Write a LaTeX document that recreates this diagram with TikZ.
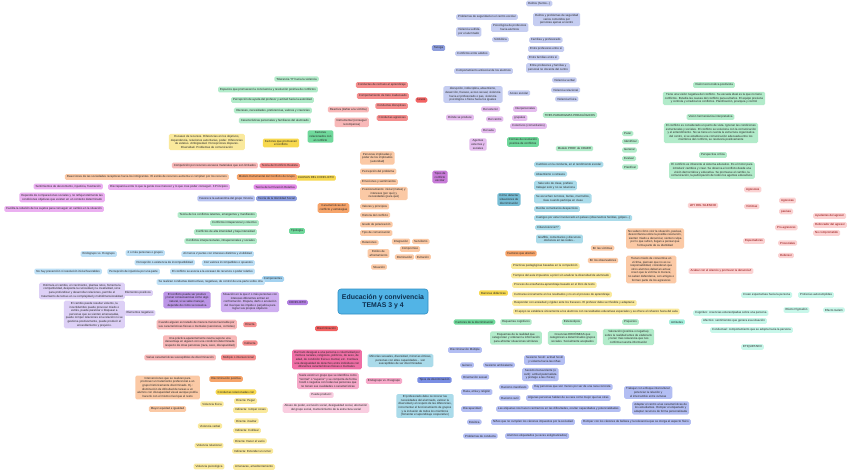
\documentclass[tikz,border=0pt]{standalone}
\usepackage{fontspec}
\setmainfont{Liberation Sans}
\usepackage{tikz}
\pgfdeclarelayer{edges}
\pgfsetlayers{edges,main}

\definecolor{cTtl}{HTML}{52B4E6}
\definecolor{cTtlD}{HTML}{2E8FC4}
\definecolor{cTtlT}{HTML}{0D2F4F}
\definecolor{cPurM}{HTML}{C77AD8}
\definecolor{cPurL}{HTML}{E4BCEE}
\definecolor{cPurLn}{HTML}{C983DA}
\definecolor{cRedM}{HTML}{F26262}
\definecolor{cRedL}{HTML}{F58E8E}
\definecolor{cRedP}{HTML}{F8B8B8}
\definecolor{cRedLn}{HTML}{F07C7C}
\definecolor{cBlvM}{HTML}{8E9EDD}
\definecolor{cBlvL}{HTML}{C5CDF1}
\definecolor{cBlvLn}{HTML}{98A6E0}
\definecolor{cGrM}{HTML}{6FD89B}
\definecolor{cGrL}{HTML}{B2EBCA}
\definecolor{cGrLn}{HTML}{8FE0B2}
\definecolor{cTlM}{HTML}{78BED6}
\definecolor{cTlL}{HTML}{AADBEA}
\definecolor{cTlLn}{HTML}{7DBFD6}
\definecolor{cOrM}{HTML}{F6A46A}
\definecolor{cOrL}{HTML}{FBC9A5}
\definecolor{cOrLn}{HTML}{F5AE7C}
\definecolor{cYeM}{HTML}{F7D84E}
\definecolor{cYeL}{HTML}{FAE99C}
\definecolor{cYeLn}{HTML}{F3D45A}
\definecolor{cAqM}{HTML}{A3F0DC}
\definecolor{cAqL}{HTML}{C8F7EA}
\definecolor{cAqLn}{HTML}{A8EEDB}
\definecolor{cPkM}{HTML}{FBD2D2}
\definecolor{cPkLn}{HTML}{F7B9B9}
\definecolor{cCpM}{HTML}{B17FE1}
\definecolor{cCpD}{HTML}{BC95E7}
\definecolor{cCpL}{HTML}{CEAEF0}
\definecolor{cCpX}{HTML}{DDD0F6}
\definecolor{cCpLn}{HTML}{B890E2}
\definecolor{cCbM}{HTML}{A3D2F0}
\definecolor{cCbL}{HTML}{BEE0F6}
\definecolor{cCbLn}{HTML}{9FCDEE}
\definecolor{cDbM}{HTML}{7B8FE4}
\definecolor{cDbL}{HTML}{B3BEF3}
\definecolor{cDbLn}{HTML}{8D9FE6}
\definecolor{cMgM}{HTML}{F06FA6}
\definecolor{cMgL}{HTML}{F6A9C9}
\definecolor{cMgX}{HTML}{F9CDE0}
\definecolor{cMgLn}{HTML}{F28AB7}
\definecolor{cMaM}{HTML}{E28BE8}
\definecolor{cMaL}{HTML}{EBB0F1}
\definecolor{cMaLn}{HTML}{E096E6}
\definecolor{cBlM}{HTML}{8D9EE0}
\definecolor{cBlL}{HTML}{B9C4F2}

\newcommand\mapfont{\fontsize{2.9}{3.6}\selectfont}

\tikzset{
  box/.style={rounded corners=1.5pt, inner xsep=2pt, inner ysep=1.6pt, font=\mapfont, align=center, text=black!85},
  ttl/.style={box, fill=cTtl, draw=cTtlD, line width=0.6pt, text=cTtlT, font=\fontsize{6.9}{8.4}\selectfont\bfseries, minimum width=90pt, minimum height=25pt, rounded corners=3pt},
  purM/.style={box, fill=cPurM}, purL/.style={box, fill=cPurL},
  redM/.style={box, fill=cRedM}, redL/.style={box, fill=cRedL}, redP/.style={box, fill=cRedP},
  blvM/.style={box, fill=cBlvM}, blvL/.style={box, fill=cBlvL},
  grM/.style={box, fill=cGrM}, grL/.style={box, fill=cGrL},
  tlM/.style={box, fill=cTlM}, tlL/.style={box, fill=cTlL},
  orM/.style={box, fill=cOrM}, orL/.style={box, fill=cOrL},
  yeM/.style={box, fill=cYeM}, yeL/.style={box, fill=cYeL},
  aqM/.style={box, fill=cAqM}, aqL/.style={box, fill=cAqL},
  pkM/.style={box, fill=cPkM, text=red!55!black},
  cpM/.style={box, fill=cCpM}, cpD/.style={box, fill=cCpD}, cpL/.style={box, fill=cCpL}, cpX/.style={box, fill=cCpX},
  cbM/.style={box, fill=cCbM}, cbL/.style={box, fill=cCbL},
  dbM/.style={box, fill=cDbM}, dbL/.style={box, fill=cDbL},
  mgM/.style={box, fill=cMgM}, mgL/.style={box, fill=cMgL}, mgX/.style={box, fill=cMgX},
  maM/.style={box, fill=cMaM}, maL/.style={box, fill=cMaL},
  blM/.style={box, fill=cBlM}, blL/.style={box, fill=cBlL},
  toR/.style={out=0,in=180}, toL/.style={out=180,in=0},
  lk/.style={line width=0.6pt},
  trunk/.style={line width=1.1pt},
  lpur/.style={lk, draw=cPurLn}, lred/.style={lk, draw=cRedLn}, lblv/.style={lk, draw=cBlvLn},
  lgr/.style={lk, draw=cGrLn}, ltl/.style={lk, draw=cTlLn}, lor/.style={lk, draw=cOrLn},
  lye/.style={lk, draw=cYeLn}, laq/.style={lk, draw=cAqLn}, lpk/.style={lk, draw=cPkLn},
  lcp/.style={lk, draw=cCpLn}, lcb/.style={lk, draw=cCbLn}, ldb/.style={lk, draw=cDbLn},
  lmg/.style={lk, draw=cMgLn}, lma/.style={lk, draw=cMaLn}
}

\begin{document}
\begin{tikzpicture}[x=1pt,y=-1pt]
\fill[white] (0,0) rectangle (848,470);
\useasboundingbox (0,0) rectangle (848,470);

% centro
\node[ttl] (title) at (383,301.5) {Educación y convivencia\\TEMAS 3 y 4};

% tipos de conflicto escolar
\node[purM] (tipos) at (440,177) {Tipos de\\conflicto\\escolar};
\node[purL] (donde) at (460,117.5) {Dónde se produce};
\node[purL, anchor=west] (exterior) at (481,109) {Del exterior};
\node[purL, anchor=west] (centro) at (486,119) {Del centro};
\node[purL, anchor=west] (aula) at (481,130.5) {Del aula};
\node[purL, anchor=west] (interp) at (513,109) {Interpersonales};
\node[purL, anchor=west] (grupal) at (512,118) {grupales};
\node[purL, anchor=west] (colect) at (510,126) {Colectivos (comunitarios)};
\node[purL] (agentes) at (478,144.5) {Agentes\\externos y\\sociales};

\node[redM] (leves) at (421.5,100) {Leves};
\node[redL, anchor=east] (rechazo) at (408,85) {Conductas de rechazo al aprendizaje};
\node[redL, anchor=east] (trato) at (409,96) {Comportamiento de trato inadecuado};
\node[redL, anchor=east] (disrup) at (408,106) {Conductas disruptivas};
\node[redL, anchor=east] (agres) at (408,118) {Conductas agresivas};
\node[redP, anchor=east] (reactiva) at (369,109.5) {Reactiva (dañar a la víctima)};
\node[redP, anchor=east] (instrum) at (369,122.5) {Instrumental (conseguir\\recompensa)};

\node[blvM] (tacoga) at (438.5,48) {Tacoga};
\node[blvL, anchor=west] (segur) at (456,17) {Problemas de seguridad en el centro escolar};
\node[blvL, anchor=west] (hurtos) at (526,3.5) {Delitos (hurtos...)};
\node[blvL, anchor=west] (ajenas) at (533,19.5) {Delitos y problemas de seguridad\\varios cometidos por\\personas ajenas al centro};
\node[blvL, anchor=west] (sufrida) at (456,32) {Violencia sufrida\\por el alumnado};
\node[blvL, anchor=west] (psico) at (491,27.5) {Psicológica de profesores\\hacia alumnos};
\node[blvL, anchor=west] (simbol) at (492,39.5) {Simbólica};
\node[blvL, anchor=west] (adultos) at (455,53.5) {Conflictos entre adultos};
\node[blvL, anchor=west] (famprof) at (529,40) {Familias y profesorado};
\node[blvL, anchor=west] (entreprof) at (528,49) {Entre profesores entre sí};
\node[blvL, anchor=west] (entrefam) at (527,57.5) {Entre familias entre sí};
\node[blvL, anchor=west] (profam) at (526,68) {Entre profesores y familias y\\personal no docente del centro};
\node[blvL, anchor=west] (antisoc) at (454,71) {Comportamiento antisocial de los alumnos};
\node[blvL] (lista) at (473,94.5) {disrupción, indisciplina, absentismo,\\deserción, fracaso, acoso sexual, violencia\\hacia el profesorado o pas, violencia\\psicológica o física hacia los iguales};
\node[blvL] (acoso) at (519,93) {Acoso escolar};
\node[blvL, anchor=west] (vverbal) at (552,80) {Violencia verbal};
\node[blvL, anchor=west] (vrelac) at (551,90) {Violencia relacional};
\node[blvL, anchor=west] (vfisica) at (555,99) {Violencia física};

% resolucion positiva
\node[grM] (formas) at (523,142) {Formas de resolución\\positiva de conflictos};
\node[grL] (paradig) at (570,115) {TRES PARADIGMAS PEDAGÓGICOS};
\node[grL] (modelo) at (574.5,148.5) {Modelo PROF de CDAER};
\node[grL] (tecno) at (714,85) {Visión tecnocrática positivista};
\node[grL] (tecnotx) at (714,98.5) {Tiene una visión negativa del conflicto. Su escuela ideal es la que no tiene\\conflictos. Estudia las causas del conflicto para evitarlos. El equipo previene\\y controla y erradica los conflictos. Planificación, jerarquía y control};
\node[grL] (herme) at (710.5,117) {Visión hermenéutica interpretativa};
\node[grL] (hermetx) at (711,133) {El conflicto es considerado un punto de vista. Ignoran las condiciones\\estructurales y sociales. El conflicto se soluciona con la comunicación\\y el entendimiento. No se tiene en cuenta la estructura organizativa\\del centro, si se establece una comunicación adecuada entre los\\miembros del conflicto, se resolverá positivamente};
\node[grL] (critica) at (713,155) {Perspectiva crítica};
\node[grL] (criticatx) at (712,170.5) {El conflicto es inherente al sistema educativo. Es el motor para\\introducir cambios y crear. Se observa el conflicto desde una\\visión democrática y educativa. Se promueve el cambio, la\\comunicación, la participación de todos los agentes educativos.};
\node[grL, anchor=west] (parar) at (622,133.5) {Parar};
\node[grL, anchor=west] (identif) at (622,141.5) {Identificar};
\node[grL, anchor=west] (generar) at (622,150) {Generar};
\node[grL, anchor=west] (evaluar) at (622,158.5) {Evaluar};
\node[grL, anchor=west] (planif) at (622,167) {Planificar};

% detectar
\node[tlM] (detect) at (509,199.5) {Cómo detectar\\situaciones de\\discriminación};
\node[tlL, anchor=west] (cambios) at (534,164.5) {Cambios en la conducta, en el rendimiento escolar};
\node[tlL, anchor=west] (absent) at (534,174) {Absentismo o retrasos};
\node[tlL, anchor=west] (sale) at (534,185.5) {Sale solo de clase, prefiere\\trabajar solo y no se relaciona};
\node[tlL, anchor=west] (rumores) at (534,198.5) {Se escuchan rumores, burlas, murmullos,\\risas cuando participa en clase};
\node[tlL, anchor=west] (despect) at (534,209) {Recibe comentarios despectivos};
\node[tlL, anchor=west] (castigos) at (534,218) {Castigos por estar involucrado en peleas (observamos heridas, golpes...)};
\node[tlL, anchor=west] (coinc) at (535,227.5) {Ciberviolencia??};
\node[tlL, anchor=west] (graff) at (536,239) {Graffitis, comentarios y discursos\\ofensivos en las redes...};

% factores que afectan
\node[orM] (afectan) at (521,253.5) {Factores que afectan};
\node[orL] (victimas) at (602.5,248) {En las víctimas};
\node[orL] (observ) at (603,260.5) {En los observadores};
\node[orL, anchor=west] (victx) at (626,238.5) {No saben cómo vivir la situación, pasivas,\\desconfianza sobre la posible resolución,\\sienten miedo a denunciar, sienten culpa\\por lo que sufren, llegan a pensar que\\forma parte de su identidad};
\node[orL, anchor=west] (obstx) at (626,269.5) {Tienen miedo de convertirse en\\víctima, piensan que no es su\\responsabilidad, consideran que\\otros alumnos deberían actuar,\\creen que la víctima lo merece,\\no saben defenderse, son amigos o\\forman parte de los agresores};

% barreras
\node[yeM] (barreras) at (493.5,293) {Barreras didácticas};
\node[yeL, anchor=west] (b1) at (511,266) {Prácticas pedagógicas basadas en la competición};
\node[yeL, anchor=west] (b2) at (511,275.5) {Tiempos del aula impuestos a priori sin analizar la diversidad de alumnado};
\node[yeL, anchor=west] (b3) at (512,285) {Proceso de enseñanza-aprendizaje basado en el libro de texto};
\node[yeL, anchor=west] (b4) at (512,294.5) {Centrarse únicamente en los resultados y no en el proceso de aprendizaje};
\node[yeL, anchor=west] (b5) at (512,303) {Responder con ansiedad y rigidez ante los fracasos. El profesor debe ser flexible y adaptarse};
\node[yeL, anchor=west] (b6) at (513,311.5) {El apoyo se establece únicamente a los alumnos con necesidades educativas especiales y se ofrece el refuerzo fuera del aula};

% factores de la discriminacion
\node[grM] (factdis) at (474.5,322) {Factores de la discriminación};
\node[grL] (esquemas) at (516,322) {Esquemas cognitivos};
\node[grL] (estereo) at (572,322) {Estereotipos};
\node[grL] (prejui) at (630.5,322) {Prejuicios};
\node[grL] (esqtx) at (516,338) {Esquemas de la realidad que\\categorizan y ordenan la información\\para afrontar situaciones similares};
\node[grL] (esttx) at (572.5,338) {Creencias ERRÓNEAS que\\categorizan a determinados grupos\\sociales. Socialmente aceptados};
\node[grL] (pretx) at (628.5,337) {Valoración (positiva o negativa)\\sobre la realidad antes de elaborarlo\\y tener más relevancia que nos\\confirma nuestra información};
\node[aqM] (actitud) at (677,322) {Actitudes};
\node[aqL, anchor=west] (cognit) at (693,313) {Cognitivo: creencias estereotipadas sobre una persona};
\node[aqL, anchor=west] (afect) at (701,321) {Afectivo: sentimientos que genera esa situación};
\node[aqL, anchor=west] (conduct) at (710,330) {Conductual: comportamiento que se adopta hacia la persona};
\node[aqL, anchor=west] (expect) at (741,295) {Crean expectativas hacia la persona};
\node[aqL, anchor=west] (profec) at (798,295) {Profecías autocumplidas};
\node[aqL] (pigm) at (796.5,310) {Efecto Pigmalión};
\node[aqL] (golem) at (834,310) {Efecto Golem};
\node[aqL] (etiq) at (752.5,347) {ETIQUETADO};

% ley del silencio
\node[pkM] (ley) at (703,205.5) {LEY DEL SILENCIO};
\node[pkM, anchor=west] (agresores) at (744,189.5) {Agresores};
\node[pkM, anchor=west] (victim2) at (744,206.5) {Víctimas};
\node[pkM, anchor=west] (espect) at (743,241) {Espectadores};
\node[pkM, anchor=west] (agresivas) at (779,200.5) {Agresivas};
\node[pkM, anchor=west] (pasivas) at (779,211.5) {pasivas};
\node[pkM, anchor=west] (proagr) at (775,227.5) {Pro-agresores};
\node[pkM, anchor=west] (prosoc) at (778,243) {Prosociales};
\node[pkM, anchor=west] (defensor) at (778,255.5) {Defensor};
\node[pkM, anchor=west] (ayud) at (813,216) {Ayudantes del agresor};
\node[pkM, anchor=west] (reforz) at (813,225) {Reforzador del agresor};
\node[pkM, anchor=west] (nocomp) at (813,233) {No comprometido};
\node[pkM] (acabar) at (721,271) {Acabar con el silencio y promover la denuncia!!};

% factores y causas
\node[grM] (factrel) at (320.5,136.5) {Factores\\relacionados con\\el conflicto};
\node[grL, anchor=east] (tol) at (319,79) {Tolerancia "0" hacia la violencia};
\node[grL, anchor=east] (esp) at (318,89.5) {Espacios que promueven la convivencia y resolución positiva de conflictos};
\node[grL, anchor=east] (percep) at (314,100) {Percepción de ayuda del profesor y actitud hacia la autoridad};
\node[grL, anchor=east] (intereses) at (312,110.5) {Intereses, necesidades, preferencias, valores y creencias};
\node[grL, anchor=east] (caract) at (311,120.5) {Características personales y familiares del alumnado};
\node[yeM] (promueven) at (281,143) {Factores que promueven\\el conflicto};
\node[yeL, anchor=east] (escasez) at (245,142) {Escasez de recursos. Diferencias en los objetivos,\\dependencia, relaciones autoritarias, poder. Diferencias\\de estatus. Ambigüedad. Percepciones dispares.\\Diversidad. Problemas de comunicación};
\node[yeM] (causas) at (316,178) {CAUSAS DEL CONFLICTO};
\node[redL, anchor=east] (realista) at (300,165.5) {Teoría del Conflicto Realista};
\node[redP, anchor=east] (compet) at (258,165.5) {Competición por recursos escasos materiales que son limitados};
\node[orM, anchor=east] (instrmod) at (297,177) {Modelo Instrumental del Conflicto de Grupo};
\node[orL, anchor=east] (reacc) at (229,177) {Reacciones de las sociedades receptoras hacia los inmigrantes. El estrés de recursos aumenta si compiten por los recursos};
\node[maM, anchor=east] (privac) at (297,187) {Teoría de la Privación Relativa};
\node[maL, anchor=east] (discrep) at (230,187) {Discrepancia entre lo que la gente cree merecer y lo que cree poder conseguir. 3 Principios};
\node[maL, anchor=east] (sentim) at (103,186.5) {Sentimientos de descontento, injusticia, frustración};
\node[maL, anchor=east] (depende) at (105,197.5) {Depende de comparaciones sociales y no refleja totalmente las\\condiciones objetivas que existen en un contexto determinado};
\node[maL, anchor=east] (facilita) at (104,209) {Facilita la rebelión de los sujetos para conseguir un cambio en la situación};
\node[blM, anchor=east] (identid) at (297,198.5) {Teoría de la Identidad Social};
\node[blL, anchor=east] (autoest) at (255,198.5) {Favorece la autoestima del grupo minoría};

% tipologia
\node[grM] (tipol) at (297,231) {Tipología};
\node[grL, anchor=east] (t1) at (257,215) {Teoría de los conflictos latentes, emergentes y manifiestos};
\node[grL, anchor=east] (t2) at (259,223) {Conflictos intrapersonal y colectivo};
\node[grL, anchor=east] (t3) at (257,232) {Conflictos de alta intensidad y baja intensidad};
\node[grL, anchor=east] (t4) at (257,241) {Conflictos interpersonales, intrapersonales y sociales};

% componentes
\node[cbM] (compon) at (273,279) {Componentes};
\node[cbL, anchor=east] (c1) at (254,254) {Al menos 2 partes con intereses distintos y visibilidad};
\node[cbL, anchor=east] (c1a) at (165,253) {2 o más personas o grupos};
\node[cbL, anchor=east] (c1b) at (117,254) {Endogrupo vs. Exogrupo};
\node[cbL, anchor=east] (c2) at (255,263) {Con valores incompatibles o opuestos};
\node[cbL, anchor=east] (c2a) at (195,262.5) {Percepción o existencia de incompatibilidad};
\node[cbL, anchor=east] (c3) at (255,271.5) {El conflicto se asocia a la escasez de recursos o poder relativo};
\node[cbL, anchor=east] (c3a) at (160,271.5) {Percepción de injusticia por una parte};
\node[cbL, anchor=east] (c3b) at (102,271.5) {No hay prevención ni resolución inicial favorables};
\node[cbL, anchor=east] (c4) at (265,282) {Se realizan conductas destructivas, negativas, de control de una parte sobre otra};

% conflicto
\node[cpM] (conflicto) at (297.5,302.5) {CONFLICTO};
\node[cpL] (situac) at (250,302) {Situación en la que 2 o más personas con\\intereses diferentes entran en\\confrontación. Disputa, daño o anulación\\del rival que les impide o perjudica para\\lograr sus propios objetivos};
\node[cpD] (puede) at (187,300) {El conflicto puede ser positivo\\y tener consecuencias como algo\\natural, si se sabe manejar,\\depende de cómo se resuelva};
\node[cpX] (epos) at (138,293) {Elementos positivos};
\node[cpX] (eneg) at (140,313) {Elementos negativos};
\node[cpX, anchor=east] (epostx) at (125,291) {Estimula el cambio, el crecimiento, plantea retos, fomenta la\\competitividad, despierta la curiosidad y la creatividad, sirve\\para profundizar y desarrollar relaciones, permite el\\tratamiento de temas en su complejidad y multidimensionalidad};
\node[cpX, anchor=east] (enegtx) at (125,314.5) {El cambio puede resultar violento, la\\incertidumbre puede provocar miedo o\\estrés, puede paralizar o bloquear a\\personas que se sienten amenazadas,\\puede romper relaciones si la relación no se\\gestiona positivamente, puede producir el\\encasillamiento y prejuicio.};

% caracteristicas
\node[orM] (caracter) at (333.5,208) {Características del\\conflicto y estrategias};
\node[orL, anchor=west] (ch1) at (360,158) {Personas implicadas y\\poder de los implicados\\(autoridad)};
\node[orL, anchor=west] (ch2) at (360,171.5) {Percepción del problema};
\node[orL, anchor=west] (ch3) at (360,182) {Emociones y sentimientos};
\node[orL, anchor=west] (ch4) at (360,193.5) {Posicionamiento: inicial (metas) y\\intereses (por qué) y\\necesidades (para qué)};
\node[orL, anchor=west] (ch5) at (360,206.5) {Valores y principios};
\node[orL, anchor=west] (ch6) at (360,215) {Historia del conflicto};
\node[orL, anchor=west] (ch7) at (360,224.5) {Grado de polarización};
\node[orL, anchor=west] (ch8) at (360,233) {Tipo de comunicación};
\node[orL, anchor=west] (ch9) at (360,242.5) {Relaciones};
\node[orL] (ch10) at (378.5,253.5) {Estilos de\\afrontamiento};
\node[orL] (ch11) at (379,267) {Situación};
\node[orL] (integr) at (401,241.5) {Integración};
\node[orL, anchor=west] (servil) at (412,241.5) {Servilismo};
\node[orL] (comprom) at (410,249) {Compromiso};
\node[orL] (domin) at (404.5,257) {Dominación};
\node[orL, anchor=west] (evit) at (415,257) {Evitación};

% discriminacion
\node[redM] (discr) at (326.5,328.5) {Discriminación};
\node[redL] (directa) at (250,324.5) {Directa};
\node[redP, anchor=east] (dirtx) at (237,324.5) {Cuando alguien es tratado de manera menos favorable por\\sus características físicas o mentales (sanciones, comidas)};
\node[redL] (indirecta) at (250,343) {Indirecta};
\node[redP, anchor=east] (indtx) at (237,342) {Una práctica aparentemente neutra supone una\\desventaja en alguien con una condición determinada\\respecto de otras personas (raza, sexo, discapacidad)};
\node[redL] (multiple) at (238.5,357.5) {Múltiple o interseccional};
\node[redP, anchor=east] (multx) at (216,357.5) {Varias características susceptibles de discriminación};
\node[orM] (dpos) at (226,379) {Discriminación positiva};
\node[orL, anchor=east] (dpostx) at (200,387.5) {Intervenciones que se realizan para\\promover un tratamiento preferencial a un\\grupo históricamente discriminado. Ej.:\\disminución de dificultad de tareas a un\\alumno con discapacidad visual aunque podría\\hacerlo con el mismo nivel que el resto};
\node[orL] (equidad) at (167.5,409) {Mayor equidad e igualdad};
\node[mgM] (dartrato) at (327,359.5) {Dar trato desigual a una persona o colectividad por\\motivos raciales, religiosos, políticos, de sexo, de\\edad, de condición física o mental, etc. Conlleva\\una desigualdad de derechos entre individuos con\\diferentes características físicas o mentales.};
\node[mgL] (suele) at (328,381) {Suele existir un grupo que se identifica como\\"normal" o "superior" y se comporta de forma\\hostil o negativa con todas las personas que\\no tienen sus cualidades o características};
\node[mgL] (endo2) at (384,381) {Endogrupo vs. Exogrupo};
\node[mgX] (puedep) at (321.5,395) {Puede producir:};
\node[mgX] (abuso) at (326,408) {Abuso de poder, exclusión social, desigualdad social, afectación\\del grupo social, mantenimiento de la estructura social};

% violencia
\node[yeM] (conrel) at (236,392) {Conductas relacionadas con};
\node[yeL] (vfis) at (212,404) {Violencia física};
\node[yeL, anchor=west] (vf1) at (234,401) {Directa: Pegar};
\node[yeL, anchor=west] (vf2) at (233,410) {Indirecta: romper cosas};
\node[yeL] (vver) at (210,426) {Violencia verbal};
\node[yeL, anchor=west] (vv1) at (234,421) {Directa: insultar};
\node[yeL, anchor=west] (vv2) at (233,430.5) {Indirecta: Cotillear};
\node[yeL] (vrel) at (209,445.5) {Violencia relacional};
\node[yeL, anchor=west] (vr1) at (233,441) {Directa: Hacer el vacío};
\node[yeL, anchor=west] (vr2) at (232,451) {Indirecta: Extender un rumor};
\node[yeL] (vpsi) at (209,466.5) {Violencia psicológica};
\node[yeL, anchor=west] (vp1) at (233,467) {Amenazas, amedrentamiento};

% tipos de discriminacion
\node[tlL] (minor) at (400.5,360.5) {Minorías sexuales, diversidad, minorías étnicas,\\personas con altas capacidades... son\\susceptibles de ser discriminadas};
\node[dbM] (tiposd) at (434.5,380) {Tipos de discriminación};
\node[tlL] (profdeb) at (425,406) {El profesorado debe reconocer las\\necesidades del alumnado, valorar la\\diversidad y el respeto de las diferencias,\\incrementar el funcionamiento de grupos\\y la inclusión de todos los miembros\\(fomentar el aprendizaje cooperativo)};
\node[dbL, anchor=west] (dmult) at (448,350) {Discriminación Múltiple};
\node[dbL, anchor=west] (genero) at (460,365) {Género};
\node[dbL, anchor=west] (sexamb) at (483,365) {Sexismo ambivalente};
\node[dbL, anchor=west] (sexhos) at (524,360) {Sexismo hostil: actitud hostil\\y violenta hacia las niñas};
\node[dbL, anchor=west] (sexben) at (522,374.5) {Sexismo benevolente (o\\sutil): actitud paternalista\\y protege a las chicas)};
\node[dbL, anchor=west] (orient) at (461,377) {Orientación sexual};
\node[dbL, anchor=west] (raza) at (461,392) {Raza, etnia y religión};
\node[dbL, anchor=west] (racman) at (499,387) {Racismo manifiesto};
\node[dbL, anchor=west] (racmantx) at (532,387) {Hay personas que son menos por ser de una raza concreta};
\node[dbL, anchor=west] (racsut) at (499,398) {Racismo sutil};
\node[dbL, anchor=west] (racsuttx) at (526,398) {Algunas personas hablan de su raza como mejor que las otras};
\node[dbL, anchor=west] (intercult) at (624,392.5) {Trabajar con enfoque intercultural:\\potenciar la relación y\\el intercambio entre culturas};
\node[dbL, anchor=west] (discap) at (461,409) {Discapacidad};
\node[dbL, anchor=west] (discaptx) at (496,409) {Las etiquetas nos hacen centrarnos en las dificultades, ocultar capacidades y potencialidades};
\node[dbL, anchor=west] (adaptar) at (632,408) {Adaptar el centro a las características de\\los estudiantes. Romper el etiquetado y\\adaptar recursos de forma personalizada};
\node[dbL, anchor=west] (estet) at (467,422) {Estética};
\node[dbL, anchor=west] (estettx) at (491,422) {Niños que no cumplen los cánones impuestos por la sociedad};
\node[dbL, anchor=west] (romper) at (581,422) {Romper con los cánones de belleza y la relevancia que se otorga al aspecto físico};
\node[dbL, anchor=west] (probc) at (463,436) {Problemas de conducta};
\node[dbL, anchor=west] (probctx) at (505,436) {Alumnos etiquetados (a veces estigmatizados)};

\begin{pgfonlayer}{edges}
% ramas arriba
\draw[lpur, trunk] ([xshift=-8pt]title.north east) .. controls +(0,-40) and +(0,40) .. (tipos.south);
\draw[lpur] (tipos.north) .. controls +(0,-30) and +(-8,0) .. (donde.west);
\draw[lpur] (tipos.north) .. controls +(0,-15) and +(-8,0) .. (agentes.west);
\draw[lpur] (donde.east) edge[toR] (exterior.west) edge[toR] (centro.west) edge[toR] (aula.west);
\draw[lpur] (centro.east) edge[toR] (interp.west) edge[toR] (grupal.west) edge[toR] (colect.west);
\draw[lred] (leves.east) .. controls +(15,0) and +(0,-40) .. (tipos.north);
\draw[lred] (leves.west) edge[toL] (rechazo.east) edge[toL] (trato.east) edge[toL] (disrup.east) edge[toL] (agres.east);
\draw[lred] (agres.west) edge[toL] (reactiva.east) edge[toL] (instrum.east);
\draw[lblv] (tacoga.south) -- (tipos.north);
\draw[lblv] (tacoga.east) edge[toR] (segur.west) edge[toR] (sufrida.west) edge[toR] (adultos.west) edge[toR] (antisoc.west);
\draw[lblv] (segur.east) edge[toR] (hurtos.west) edge[toR] (ajenas.west);
\draw[lblv] (sufrida.east) edge[toR] (psico.west) edge[toR] (simbol.west);
\draw[lblv] (adultos.east) edge[toR] (famprof.west) edge[toR] (entreprof.west) edge[toR] (entrefam.west) edge[toR] (profam.west);
\draw[lblv] (antisoc.south) .. controls +(0,8) and +(0,-8) .. (lista.north);
\draw[lblv] (antisoc.east) .. controls +(6,0) and +(0,-10) .. (acoso.north);
\draw[lblv] (acoso.east) edge[toR] (vverbal.west) edge[toR] (vrelac.west) edge[toR] (vfisica.west);
% ramas derecha
\draw[lgr, trunk] (title.east) .. controls +(45,0) and +(-35,0) .. (formas.west);
\draw[lgr] (formas.east) edge[toR] (paradig.west) edge[toR] (modelo.west);
\draw[lgr] (paradig.east) edge[toR] (tecno.west) edge[toR] (herme.west) edge[toR] (critica.west);
\draw[lgr] (tecno.south) -- (tecnotx.north);
\draw[lgr] (herme.south) -- (hermetx.north);
\draw[lgr] (critica.south) -- (criticatx.north);
\draw[lgr] (modelo.east) edge[toR] (parar.west) edge[toR] (identif.west) edge[toR] (generar.west) edge[toR] (evaluar.west) edge[toR] (planif.west);
\draw[ltl, trunk] (title.east) .. controls +(35,0) and +(-28,0) .. (detect.west);
\draw[ltl] (detect.east) edge[toR] (cambios.west) edge[toR] (absent.west) edge[toR] (sale.west) edge[toR] (rumores.west) edge[toR] (despect.west) edge[toR] (castigos.west) edge[toR] (coinc.west) edge[toR] (graff.west);
\draw[lor, trunk] (title.east) to[toR] (afectan.west);
\draw[lor] (afectan.east) edge[toR] (victimas.west) edge[toR] (observ.west);
\draw[lor] (victimas.east) to[toR] (victx.west);
\draw[lor] (observ.east) to[toR] (obstx.west);
\draw[lye, trunk] (title.east) to[toR] (barreras.west);
\draw[lye] (barreras.east) edge[toR] (b1.west) edge[toR] (b2.west) edge[toR] (b3.west) edge[toR] (b4.west) edge[toR] (b5.west) edge[toR] (b6.west);
\draw[lgr, trunk] (title.east) to[toR] (factdis.west);
\draw[lgr] (factdis.east) -- (esquemas.west);
\draw[lgr] (esquemas.east) -- (estereo.west);
\draw[lgr] (estereo.east) -- (prejui.west);
\draw[lgr] (esquemas.south) -- (esqtx.north);
\draw[lgr] (estereo.south) -- (esttx.north);
\draw[lgr] (prejui.south) -- (pretx.north);
\draw[laq] (prejui.east) -- (actitud.west);
\draw[laq] (actitud.east) edge[toR] (cognit.west) edge[toR] (afect.west) edge[toR] (conduct.west);
\draw[laq] ([xshift=12pt]cognit.north) .. controls +(0,-10) and +(-8,0) .. (expect.west);
\draw[laq] (expect.east) -- (profec.west);
\draw[laq] (profec.south) .. controls +(0,8) and +(0,-6) .. (pigm.north);
\draw[laq] (profec.south) .. controls +(0,8) and +(0,-6) .. (golem.north);
\draw[laq] (conduct.south) -- (etiq.north);
\draw[lpk] (ley.east) edge[toR] (agresores.west) edge[toR] (victim2.west) edge[toR] (espect.west);
\draw[lpk] (victim2.east) edge[toR] (agresivas.west) edge[toR] (pasivas.west);
\draw[lpk] (espect.east) edge[toR] (proagr.west) edge[toR] (prosoc.west) edge[toR] (defensor.west);
\draw[lpk] (proagr.east) edge[toR] (ayud.west) edge[toR] (reforz.west) edge[toR] (nocomp.west);
\draw[lpk] (ley.south) .. controls +(0,40) and +(0,-25) .. (acabar.north);
% ramas izquierda
\draw[lgr] (factrel.north) .. controls +(0,-10) and +(6,0) .. (tol.east);
\draw[lgr] (factrel.north) .. controls +(0,-10) and +(6,0) .. (esp.east);
\draw[lgr] (factrel.north) .. controls +(0,-8) and +(6,0) .. (percep.east);
\draw[lgr] (factrel.north) .. controls +(0,-6) and +(6,0) .. (intereses.east);
\draw[lgr] (factrel.north) .. controls +(0,-4) and +(6,0) .. (caract.east);
\draw[lgr] (factrel.south) .. controls +(0,15) and +(0,-12) .. (causas.north);
\draw[lye] (promueven.west) to[toL] (escasez.east);
\draw[lye] (promueven.east) .. controls +(18,0) and +(0,-15) .. (causas.north);
\draw[lye] (causas.west) edge[toL] (realista.east) edge[toL] (instrmod.east) edge[toL] (privac.east) edge[toL] (identid.east);
\draw[lred] (realista.west) to[toL] (compet.east);
\draw[lor] (instrmod.west) to[toL] (reacc.east);
\draw[lma] (privac.west) to[toL] (discrep.east);
\draw[lma] (discrep.west) edge[toL] (sentim.east) edge[toL] (depende.east) edge[toL] (facilita.east);
\draw[ldb] (identid.west) to[toL] (autoest.east);
\draw[lye, trunk] (causas.south) .. controls +(0,70) and +(-12,0) .. (title.west);
\draw[lgr] (tipol.west) edge[toL] (t1.east) edge[toL] (t2.east) edge[toL] (t3.east) edge[toL] (t4.east);
\draw[lgr] (tipol.south) -- (conflicto.north);
\draw[lcb] (compon.west) edge[toL] (c1.east) edge[toL] (c2.east) edge[toL] (c3.east) edge[toL] (c4.east);
\draw[lcb] (c1.west) to[toL] (c1a.east);
\draw[lcb] (c1a.west) to[toL] (c1b.east);
\draw[lcb] (c2.west) to[toL] (c2a.east);
\draw[lcb] (c3.west) to[toL] (c3a.east);
\draw[lcb] (c3a.west) to[toL] (c3b.east);
\draw[lcb] (compon.east) .. controls +(12,0) and +(0,-10) .. (conflicto.north);
\draw[lcp, trunk] (conflicto.east) to[toR] (title.west);
\draw[lcp] (conflicto.west) to[toL] (situac.east);
\draw[lcp] (situac.west) to[toL] (puede.east);
\draw[lcp] (puede.west) edge[toL] (epos.east) edge[toL] (eneg.east);
\draw[lcp] (epos.west) to[toL] (epostx.east);
\draw[lcp] (eneg.west) to[toL] (enegtx.east);
\draw[lor] (caracter.east) edge[toR] (ch1.west) edge[toR] (ch2.west) edge[toR] (ch3.west) edge[toR] (ch4.west) edge[toR] (ch5.west) edge[toR] (ch6.west) edge[toR] (ch7.west) edge[toR] (ch8.west) edge[toR] (ch9.west) edge[toR] (ch10.west) edge[toR] (ch11.west);
\draw[lor] (ch10.east) edge[toR] (integr.west) edge[toR] (comprom.west) edge[toR] (domin.west);
\draw[lor] (integr.east) -- (servil.west);
\draw[lor] (domin.east) -- (evit.west);
\draw[lor, trunk] (caracter.south) .. controls +(0,40) and +(0,-30) .. ([xshift=12pt]title.north west);
% ramas abajo
\draw[lred, trunk] ([xshift=4pt]title.south west) .. controls +(0,10) and +(6,0) .. (discr.east);
\draw[lred] (discr.west) edge[toL] (directa.east) edge[toL] (indirecta.east) edge[toL] (multiple.east);
\draw[lor] (discr.west) to[toL] (dpos.east);
\draw[lred] (directa.west) to[toL] (dirtx.east);
\draw[lred] (indirecta.west) to[toL] (indtx.east);
\draw[lred] (multiple.west) to[toL] (multx.east);
\draw[lor] (dpos.west) to[toL] (dpostx.east);
\draw[lor] (dpostx.south) -- (equidad.north);
\draw[lmg] (discr.south) -- (dartrato.north);
\draw[lmg] (dartrato.south) -- (suele.north);
\draw[lmg] (suele.east) -- (endo2.west);
\draw[lmg] (suele.south) -- (puedep.north);
\draw[lmg] (puedep.south) -- (abuso.north);
\draw[lye, trunk] (title.west) .. controls +(-30,25) and +(25,-45) .. (conrel.east);
\draw[lye] ([xshift=2pt]conrel.south west) -- (vfis.north);
\draw[lye] (vfis.south) -- (vver.north);
\draw[lye] (vver.south) -- (vrel.north);
\draw[lye] (vrel.south) -- (vpsi.north);
\draw[lye] (vfis.east) edge[toR] (vf1.west) edge[toR] (vf2.west);
\draw[lye] (vver.east) edge[toR] (vv1.west) edge[toR] (vv2.west);
\draw[lye] (vrel.east) edge[toR] (vr1.west) edge[toR] (vr2.west);
\draw[lye] (vpsi.east) to[toR] (vp1.west);
\draw[ltl, trunk] (title.south) .. controls +(0,20) and +(0,-15) .. (minor.north);
\draw[ldb, trunk] ([xshift=-6pt]title.south east) .. controls +(0,30) and +(0,-25) .. (tiposd.north);
\draw[ltl] (tiposd.south) -- (profdeb.north);
\draw[ldb] (tiposd.east) edge[toR] (dmult.west) edge[toR] (genero.west) edge[toR] (orient.west) edge[toR] (raza.west) edge[toR] (discap.west) edge[toR] (estet.west) edge[toR] (probc.west);
\draw[ldb] (genero.east) to[toR] (sexamb.west);
\draw[ldb] (sexamb.east) edge[toR] (sexhos.west) edge[toR] (sexben.west);
\draw[ldb] (raza.east) edge[toR] (racman.west) edge[toR] (racsut.west);
\draw[ldb] (racman.east) to[toR] (racmantx.west);
\draw[ldb] (racsut.east) to[toR] (racsuttx.west);
\draw[ldb] (racmantx.east) to[toR] (intercult.west);
\draw[ldb] (racsuttx.east) to[toR] (intercult.west);
\draw[ldb] (discap.east) to[toR] (discaptx.west);
\draw[ldb] (discaptx.east) to[toR] (adaptar.west);
\draw[ldb] (estet.east) to[toR] (estettx.west);
\draw[ldb] (estettx.east) to[toR] (romper.west);
\draw[ldb] (probc.east) to[toR] (probctx.west);
\end{pgfonlayer}
\end{tikzpicture}
\end{document}
